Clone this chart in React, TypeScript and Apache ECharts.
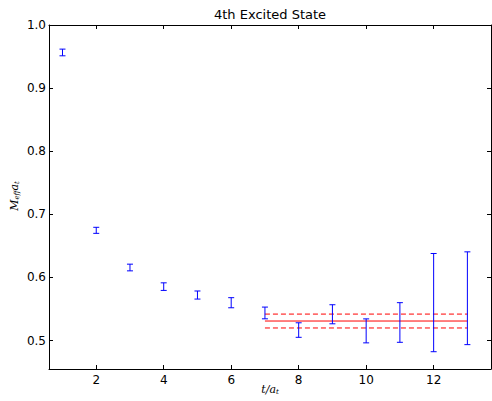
import React, { useEffect, useRef } from "react";
import * as echarts from "echarts";

const tValues = [1, 2, 3, 4, 5, 6, 7, 8, 9, 10, 11, 12, 13];
const meffValues = [0.9565, 0.6747, 0.6158, 0.5855, 0.5722, 0.56, 0.5438, 0.5167, 0.5417, 0.5154, 0.5287, 0.5602, 0.5671];
const meffErrors = [0.0053, 0.0048, 0.0053, 0.006, 0.0064, 0.008, 0.0093, 0.0115, 0.0151, 0.019, 0.0314, 0.0778, 0.0735];
const fitRange = [7, 13];
const fitValue = 0.531;
const fitError = 0.011;
const xTicks = [2, 4, 6, 8, 10, 12];
const yTicks = [0.5, 0.6, 0.7, 0.8, 0.9, 1.0];
const titleText = "4th Excited State";

export default function App() {
  const ref = useRef<HTMLDivElement>(null);
  useEffect(() => {
    if (!ref.current) return;
    const chart = echarts.init(ref.current, undefined, { renderer: "svg" });
    const errData = tValues.map((t, i) => [t, meffValues[i], meffErrors[i]]);
    const axisCommon = {
      type: "value" as const,
      axisLine: { show: true, onZero: false, lineStyle: { color: "#000", width: 1 } },
      splitLine: { show: false },
    };
    const xCommon = {
      ...axisCommon,
      min: 0.6,
      max: 13.7,
    };
    const yCommon = {
      ...axisCommon,
      min: 0.455,
      max: 1.0,
    };
    const fitLine = (v: number, dashed: boolean) => ({
      type: "line",
      data: [[fitRange[0], v], [fitRange[1], v]],
      symbol: "none",
      silent: true,
      lineStyle: { color: "#ff0000", width: 1, type: dashed ? [5, 3] : "solid" },
      z: 3,
    });
    chart.setOption({
      animation: false,
      grid: { left: 49, right: 1, top: 25, bottom: 32, containLabel: false },
      xAxis: [
        {
          ...xCommon,
          position: "bottom",
          axisTick: { show: true, inside: true, length: 4, customValues: xTicks, lineStyle: { color: "#000" } },
          axisLabel: { show: true, customValues: xTicks, color: "#000", fontSize: 12, fontFamily: "DejaVu Sans", margin: 5 },
        },
        {
          ...xCommon,
          position: "top",
          axisTick: { show: true, inside: true, length: 4, customValues: xTicks, lineStyle: { color: "#000" } },
          axisLabel: { show: false },
        },
      ],
      yAxis: [
        {
          ...yCommon,
          position: "left",
          axisTick: { show: true, inside: true, length: 4, customValues: yTicks, lineStyle: { color: "#000" } },
          axisLabel: {
            show: true,
            customValues: yTicks,
            color: "#000",
            fontSize: 12,
            fontFamily: "DejaVu Sans",
            margin: 3,
            formatter: (v: number) => v.toFixed(1),
          },
        },
        {
          ...yCommon,
          position: "right",
          axisTick: { show: true, inside: true, length: 4, customValues: yTicks, lineStyle: { color: "#000" } },
          axisLabel: { show: false },
        },
      ],
      series: [
        {
          type: "custom",
          data: errData,
          z: 4,
          renderItem: (params: any, api: any) => {
            const x = api.value(0);
            const y = api.value(1);
            const e = api.value(2);
            const top = api.coord([x, y + e]);
            const bot = api.coord([x, y - e]);
            const hw = 3;
            const style = { stroke: "#0000ff", lineWidth: 1 };
            return {
              type: "group",
              children: [
                { type: "line", shape: { x1: top[0], y1: top[1], x2: bot[0], y2: bot[1] }, style },
                { type: "line", shape: { x1: top[0] - hw, y1: top[1], x2: top[0] + hw, y2: top[1] }, style },
                { type: "line", shape: { x1: bot[0] - hw, y1: bot[1], x2: bot[0] + hw, y2: bot[1] }, style },
              ],
            };
          },
        },
        fitLine(fitValue, false),
        fitLine(fitValue + fitError, true),
        fitLine(fitValue - fitError, true),
      ],
      graphic: [
        {
          type: "text",
          x: 270,
          y: 14,
          style: {
            text: titleText,
            fill: "#000",
            font: "13px 'DejaVu Sans'",
            align: "center",
            verticalAlign: "middle",
          },
        },
        {
          type: "text",
          x: 270,
          y: 389,
          style: {
            text: "{i|t/a}{s|t}",
            align: "center",
            verticalAlign: "middle",
            rich: {
              i: { fontFamily: "DejaVu Serif", fontStyle: "italic", fontSize: 11, fill: "#000" },
              s: { fontFamily: "DejaVu Serif", fontStyle: "italic", fontSize: 7, fill: "#000", padding: [6, 0, 0, 0] },
            },
          },
        },
        {
          type: "text",
          x: 14,
          y: 196,
          rotation: Math.PI / 2,
          style: {
            text: "{i|M}{s|eff}{i|a}{s|t}",
            align: "center",
            verticalAlign: "middle",
            rich: {
              i: { fontFamily: "DejaVu Serif", fontStyle: "italic", fontSize: 11, fill: "#000" },
              s: { fontFamily: "DejaVu Serif", fontStyle: "italic", fontSize: 7, fill: "#000", padding: [6, 0, 0, 0] },
            },
          },
        },
      ],
    });
    return () => chart.dispose();
  }, []);
  return <div ref={ref} style={{ position: "absolute", left: 0, top: 0, width: 492, height: 401 }} />;
}
